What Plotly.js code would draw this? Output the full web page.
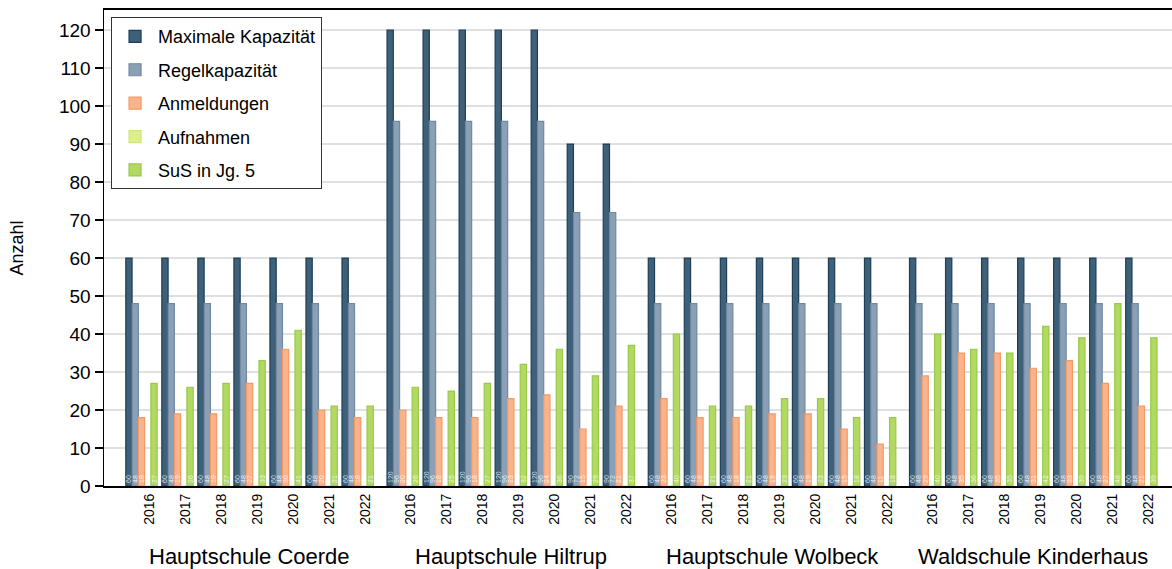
<!DOCTYPE html>
<html>
<head>
<meta charset="utf-8">
<script src="https://cdn.plot.ly/plotly-3.0.1.min.js"></script>
<style>html,body{margin:0;padding:0;background:#fff;}#chart{width:1172px;height:569px;}</style>
</head>
<body>
<div id="chart"></div>
<script>
const schools = ["Hauptschule Coerde", "Hauptschule Hiltrup", "Hauptschule Wolbeck", "Waldschule Kinderhaus"];
const years = ["2016", "2017", "2018", "2019", "2020", "2021", "2022"];

const maxKapazitaet = [
  60, 60, 60, 60, 60, 60, 60,
  120, 120, 120, 120, 120, 90, 90,
  60, 60, 60, 60, 60, 60, 60,
  60, 60, 60, 60, 60, 60, 60
];
const regelKapazitaet = [
  48, 48, 48, 48, 48, 48, 48,
  96, 96, 96, 96, 96, 72, 72,
  48, 48, 48, 48, 48, 48, 48,
  48, 48, 48, 48, 48, 48, 48
];
const anmeldungen = [
  18, 19, 19, 27, 36, 20, 18,
  20, 18, 18, 23, 24, 15, 21,
  23, 18, 18, 19, 19, 15, 11,
  29, 35, 35, 31, 33, 27, 21
];
const aufnahmen = [
  0, 0, 0, 0, 0, 0, 0,
  0, 0, 0, 0, 0, 0, 0,
  0, 0, 0, 0, 0, 0, 0,
  0, 0, 0, 0, 0, 0, 0
];
const susJg5 = [
  27, 26, 27, 33, 41, 21, 21,
  26, 25, 27, 32, 36, 29, 37,
  40, 21, 21, 23, 23, 18, 18,
  40, 36, 35, 42, 39, 48, 39
];

const seriesNames = ["Maximale Kapazität", "Regelkapazität", "Anmeldungen", "Aufnahmen", "SuS in Jg. 5"];
const seriesFill = ["#3e6079", "#8ba0b5", "#fab38a", "#dcef8a", "#b2da62"];
const seriesLine = ["#1d3f5a", "#6f88a3", "#f29a66", "#cfe675", "#98c94a"];
const seriesValues = [maxKapazitaet, regelKapazitaet, anmeldungen, aufnahmen, susJg5];

const groupStep = 7.25;
const xPos = [];
const tickVals = [];
const tickText = [];
schools.forEach((s, g) => {
  years.forEach((y, i) => {
    xPos.push(g * groupStep + i);
    tickVals.push(g * groupStep + i + 0.21);
    tickText.push(y);
  });
});

const FONT = "Liberation Sans, Arial, sans-serif";

const traces = seriesNames.map((name, k) => ({
  type: "bar",
  name: name,
  x: xPos,
  y: seriesValues[k],
  legendgroup: "g" + k,
  marker: {color: seriesFill[k], line: {color: seriesLine[k], width: 1.2}},
  text: seriesValues[k].map(String),
  textposition: "inside",
  insidetextanchor: "start",
  constraintext: "none",
  textangle: -90,
  textfont: {family: FONT, size: 7, color: "rgba(255,255,255,0.8)"},
  hoverinfo: "name+y"
}));

const annotations = schools.map((s, g) => ({
  x: g * groupStep + 3,
  xref: "x",
  y: -0.149,
  yref: "paper",
  text: s,
  showarrow: false,
  xanchor: "center",
  yanchor: "middle",
  font: {family: FONT, size: 22, color: "#000"}
}));

const layout = {
  width: 1172,
  height: 569,
  margin: {l: 104, r: 0, t: 10, b: 83},
  paper_bgcolor: "#fff",
  plot_bgcolor: "#fff",
  barmode: "group",
  bargap: 0.13,
  bargroupgap: 0,
  font: {family: FONT, color: "#000"},
  showlegend: true,
  legend: {
    x: 0.0066, y: 0.985, xanchor: "left", yanchor: "top",
    bgcolor: "#fff", bordercolor: "#333", borderwidth: 1,
    font: {family: FONT, size: 18, color: "#000"},
    traceorder: "grouped",
    tracegroupgap: 7,
    itemwidth: 36
  },
  xaxis: {
    range: [-1.04, 28.6],
    tickmode: "array",
    tickvals: tickVals,
    ticktext: tickText,
    tickangle: -90,
    ticks: "",
    ticklen: 0,
    tickfont: {family: FONT, size: 14, color: "#000"},
    showgrid: false,
    zeroline: false,
    showline: true,
    linecolor: "#000",
    linewidth: 2,
    mirror: true
  },
  yaxis: {
    range: [0, 125.3],
    tickmode: "array",
    tickvals: [0, 10, 20, 30, 40, 50, 60, 70, 80, 90, 100, 110, 120],
    ticks: "outside",
    ticklen: 8,
    tickwidth: 1.5,
    tickcolor: "#000",
    tickfont: {family: FONT, size: 19, color: "#000"},
    showgrid: true,
    gridcolor: "#e0e0e0",
    gridwidth: 2,
    zeroline: false,
    showline: true,
    linecolor: "#000",
    linewidth: 1.5,
    title: {text: "Anzahl", standoff: 30, font: {family: FONT, size: 18, color: "#000"}}
  },
  annotations: annotations
};

Plotly.newPlot("chart", traces, layout, {displayModeBar: false, staticPlot: true});
</script>
</body>
</html>
